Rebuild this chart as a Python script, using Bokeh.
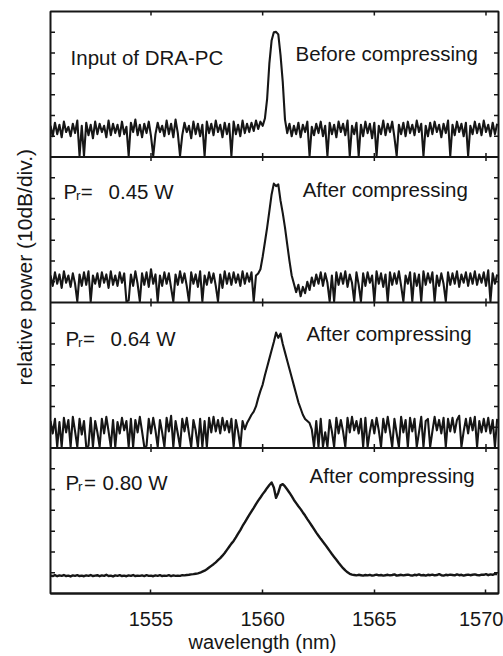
import numpy as np
from bokeh.plotting import figure
from bokeh.models import Range1d, FixedTicker, LinearAxis, Label, Span, Title
from bokeh.embed import file_html
from bokeh.resources import INLINE

# ---------------- data (1 division = 10 dB) ----------------
wavelength = np.round(1550.5 + 0.1 * np.arange(201), 2)   # nm sampling grid

power_input = [
    1.5, 1.0, 1.65, 1.1, 1.55, 0.95, 1.7, 1.2, 1.45, 1.0,
    1.6, 1.15, 1.75, 0.05, 1.5, 0.05, 1.65, 1.05, 1.55, 0.9,
    1.7, 1.1, 1.6, 1.2, 1.5, 0.95, 1.75, 1.05, 1.6, 1.15,
    1.55, 1.0, 1.7, 1.1, 1.45, 0.05, 1.65, 1.2, 1.8, 1.05,
    1.55, 0.95, 1.6, 1.15, 1.7, 1.0, 0.05, 1.1, 1.65, 1.2,
    1.5, 1.0, 1.75, 1.1, 1.6, 0.95, 1.8, 1.15, 0.05, 1.05,
    1.65, 1.2, 1.5, 0.9, 1.7, 1.1, 1.6, 1.0, 1.55, 0.05,
    1.7, 1.15, 1.6, 1.05, 1.75, 1.2, 1.55, 0.95, 1.65, 1.1,
    1.6, 0.05, 1.7, 1.1, 1.55, 1.0, 1.75, 1.15, 1.6, 1.2,
    1.65, 1.25, 1.75, 1.35, 1.7, 1.5, 1.85, 2.8, 4.5, 5.6,
    6.0, 6.02, 5.9, 4.9, 3.6, 1.8, 1.15, 1.6, 1.0, 1.5,
    1.1, 1.65, 0.95, 1.55, 1.2, 1.7, 0.05, 1.45, 1.05, 1.6,
    1.15, 1.7, 1.0, 1.5, 0.05, 1.65, 1.1, 1.55, 0.95, 1.7,
    1.2, 1.6, 1.05, 1.75, 0.05, 1.5, 1.1, 1.65, 0.05, 1.55,
    1.0, 1.7, 1.15, 1.6, 0.9, 1.65, 0.05, 1.5, 1.1, 1.75,
    1.05, 1.6, 1.2, 1.7, 0.95, 0.05, 1.55, 1.1, 1.65, 1.0,
    1.7, 1.15, 1.55, 1.05, 1.75, 1.2, 1.6, 0.05, 1.5, 1.0,
    1.65, 1.1, 1.7, 1.2, 1.55, 0.95, 1.6, 1.15, 1.75, 0.05,
    1.55, 1.05, 1.7, 1.2, 1.6, 1.0, 1.65, 0.05, 1.5, 1.1,
    1.7, 1.15, 1.6, 1.05, 1.75, 1.2, 1.55, 1.0, 1.65, 1.1,
    1.6,
]

power_045 = [
    1.3, 0.8, 1.45, 0.9, 1.35, 0.7, 1.5, 0.95, 1.3, 0.75,
    1.4, 0.9, 0.05, 1.35, 0.8, 1.45, 0.85, 1.5, 0.05, 1.3,
    0.9, 1.4, 0.75, 1.45, 0.95, 1.35, 0.7, 1.5, 0.85, 1.3,
    0.8, 1.45, 0.95, 1.4, 0.05, 0.1, 1.35, 0.8, 1.5, 0.9,
    0.05, 1.4, 0.85, 1.45, 0.75, 1.6, 0.9, 1.35, 0.05, 1.3,
    0.8, 1.45, 0.9, 1.4, 0.7, 0.05, 1.35, 0.85, 1.5, 0.95,
    1.4, 0.8, 0.05, 1.45, 0.9, 1.35, 0.75, 1.5, 0.05, 1.3,
    0.85, 1.45, 0.95, 1.4, 0.8, 0.05, 1.35, 0.7, 1.5, 0.9,
    1.4, 0.85, 1.45, 0.95, 1.35, 0.8, 1.5, 0.9, 1.4, 1.0,
    1.45, 0.05, 1.3, 1.4, 1.6, 2.2, 2.9, 3.6, 4.4, 5.2,
    5.72, 5.6, 5.68, 4.9, 4.3, 3.6, 2.8, 2.0, 1.3, 0.9,
    0.5, 0.85, 0.3, 0.75, 0.45, 1.0, 0.6, 1.2, 0.8, 1.35,
    0.9, 1.45, 0.8, 1.4, 0.95, 0.05, 1.3, 0.05, 1.45, 0.85,
    1.4, 0.9, 1.5, 0.75, 1.35, 0.95, 0.05, 1.45, 0.85, 0.05,
    1.4, 0.8, 1.45, 0.95, 1.3, 0.05, 1.5, 0.9, 1.4, 0.75,
    1.35, 0.05, 1.45, 0.85, 1.4, 0.9, 1.5, 0.8, 0.05, 1.3,
    0.9, 1.45, 0.05, 1.4, 0.8, 1.35, 0.05, 1.5, 0.85, 1.4,
    0.95, 1.45, 0.05, 1.3, 0.8, 1.4, 0.9, 0.05, 1.45, 0.85,
    1.4, 0.9, 1.5, 0.75, 1.35, 0.95, 1.45, 0.8, 1.4, 0.9,
    1.5, 0.85, 1.35, 0.95, 1.45, 0.8, 1.55, 0.05, 1.4, 0.9,
    1.35,
]

power_064 = [
    1.3, 0.7, 1.4, 0.05, 1.25, 0.05, 1.45, 0.75, 1.35, 0.05,
    1.5, 0.8, 0.05, 1.4, 0.65, 1.3, 0.05, 0.1, 1.45, 0.05,
    1.3, 0.75, 0.05, 1.4, 0.7, 1.5, 0.8, 0.05, 1.35, 0.05,
    1.25, 0.7, 1.45, 0.85, 1.3, 0.05, 1.4, 0.05, 1.35, 0.75,
    1.5, 0.8, 0.05, 0.1, 1.4, 0.7, 1.45, 0.85, 0.05, 1.35,
    0.75, 0.05, 1.45, 0.8, 1.55, 0.05, 1.3, 0.7, 0.05, 1.4,
    0.8, 1.45, 0.7, 0.05, 1.35, 0.85, 0.05, 1.4, 0.05, 1.3,
    0.05, 1.45, 0.75, 1.5, 0.8, 1.35, 0.7, 1.45, 0.85, 1.3,
    0.75, 1.4, 0.05, 1.35, 0.8, 0.05, 1.3, 0.9, 1.2, 1.4,
    1.6, 1.75, 2.0, 2.4, 2.75, 3.05, 3.5, 3.9, 4.3, 4.7,
    5.1, 5.55, 5.3, 5.5, 5.0, 4.6, 4.2, 3.8, 3.4, 3.0,
    2.6, 2.2, 1.9, 1.6, 1.4, 1.3, 1.2, 0.9, 0.05, 1.3,
    0.05, 1.4, 0.05, 0.75, 0.05, 1.35, 0.8, 0.05, 1.45, 0.7,
    1.35, 0.8, 0.05, 1.45, 0.75, 1.5, 0.85, 1.3, 0.7, 1.4,
    0.05, 1.45, 0.05, 0.8, 1.35, 0.7, 1.45, 0.85, 0.05, 1.4,
    0.75, 1.5, 0.8, 0.05, 1.4, 0.7, 0.05, 1.5, 0.75, 1.35,
    0.05, 1.45, 0.8, 1.4, 0.05, 0.75, 1.5, 0.05, 1.3, 1.4,
    0.05, 0.8, 1.5, 0.85, 1.35, 0.7, 1.45, 0.05, 1.4, 0.8,
    1.45, 0.75, 1.35, 1.55, 0.05, 0.8, 1.4, 0.7, 1.45, 0.85,
    1.5, 0.05, 1.3, 0.75, 1.4, 0.8, 1.45, 0.7, 1.35, 0.05,
    1.4,
]

power_080 = [
    0.86, 0.84, 0.88, 0.83, 0.87, 0.85, 0.89, 0.84, 0.86, 0.82,
    0.87, 0.85, 0.88, 0.84, 0.86, 0.83, 0.87, 0.85, 0.89, 0.84,
    0.86, 0.88, 0.83, 0.87, 0.85, 0.9, 0.84, 0.86, 0.82, 0.87,
    0.85, 0.88, 0.84, 0.86, 0.83, 0.87, 0.85, 0.89, 0.84, 0.86,
    0.85, 0.87, 0.84, 0.88, 0.85, 0.86, 0.83, 0.87, 0.85, 0.88,
    0.84, 0.86, 0.85, 0.88, 0.84, 0.87, 0.85, 0.86, 0.85, 0.88,
    0.87, 0.89, 0.9, 0.92, 0.93, 0.95, 0.97, 1.0, 1.05, 1.1,
    1.17, 1.25, 1.33, 1.41, 1.5, 1.6, 1.7, 1.82, 1.95, 2.1,
    2.25, 2.4, 2.53, 2.7, 2.88, 3.05, 3.25, 3.42, 3.6, 3.78,
    3.95, 4.12, 4.3, 4.47, 4.62, 4.78, 4.92, 5.08, 5.22, 5.34,
    5.1, 4.6, 4.85, 5.2, 5.26, 5.15, 5.0, 4.85, 4.68, 4.5,
    4.35, 4.2, 4.06, 3.9, 3.75, 3.58, 3.42, 3.26, 3.1, 2.93,
    2.78, 2.63, 2.49, 2.35, 2.2, 2.05, 1.9, 1.76, 1.62, 1.48,
    1.35, 1.22, 1.11, 1.02, 0.95, 0.91, 0.89, 0.87, 0.9, 0.88,
    0.86, 0.89, 0.87, 0.9, 0.86, 0.88, 0.91, 0.87, 0.89, 0.86,
    0.88, 0.9, 0.87, 0.89, 0.92, 0.86, 0.88, 0.9, 0.87, 0.89,
    0.91, 0.88, 0.86, 0.9, 0.88, 0.92, 0.87, 0.89, 0.86, 0.9,
    0.88, 0.91, 0.87, 0.89, 0.93, 0.88, 0.86, 0.9, 0.88, 0.91,
    0.89, 0.87, 0.92, 0.88, 0.9, 0.86, 0.89, 0.91, 0.88, 0.9,
    0.92, 0.89, 0.87, 0.91, 0.9, 0.93, 0.88, 0.92, 0.9, 0.94,
    0.93,
]

x_ticks = [1555, 1560, 1565, 1570]
divisions_per_panel = 7
panel_series = [power_input, power_045, power_064, power_080]   # top -> bottom
pump_powers = ["0.45 W", "0.64 W", "0.80 W"]

# ---------------- figure ----------------
FONT = "Liberation Sans"
INK = "#161616"
n_panels = len(panel_series)
total = n_panels * divisions_per_panel
x_lo, x_hi = 1550.5, 1570.56

p = figure(width=503, height=656, output_backend="svg", toolbar_location=None,
           x_range=Range1d(x_lo, x_hi), y_range=Range1d(0, total),
           x_axis_location=None, y_axis_location=None,
           min_border_left=50, min_border_right=5, min_border_top=11, min_border_bottom=63)
p.grid.grid_line_color = None
p.outline_line_color = INK
p.outline_line_width = 2
p.background_fill_color = "white"
p.border_fill_color = "white"

# per-panel y scales (each panel shows 0..7 divisions)
ranges = {}
for k in range(n_panels):
    off = (n_panels - 1 - k) * divisions_per_panel
    ranges[f"panel{k}"] = Range1d(-off, total - off)
p.extra_y_ranges = ranges

y_ticks = [k * divisions_per_panel + d for k in range(n_panels) for d in range(1, divisions_per_panel)]

# bottom axis with labels
bottom = LinearAxis(ticker=FixedTicker(ticks=x_ticks))
bottom.axis_line_color = INK
bottom.axis_line_width = 2
bottom.major_tick_line_color = INK
bottom.major_tick_line_width = 1.5
bottom.major_tick_in = 4
bottom.major_tick_out = 0
bottom.minor_tick_in = 0
bottom.minor_tick_out = 0
bottom.major_label_text_font = FONT
bottom.major_label_text_font_size = "20px"
bottom.major_label_text_color = INK
bottom.major_label_standoff = 18
p.add_layout(bottom, "below")
p.add_layout(Title(text="wavelength (nm)", text_font=FONT, text_font_size="20px",
                   text_font_style="normal", text_color=INK, align="left",
                   offset=138, standoff=0), "below")

# y title, pushed to the outer side of the left border
p.add_layout(Title(text="relative power (10dB/div.)", text_font=FONT, text_font_size="21px",
                   text_font_style="normal", text_color=INK, align="left",
                   vertical_align="top", offset=208, standoff=25), "left")

# panel separators
boundaries = [k * divisions_per_panel for k in range(1, n_panels)]
for b in boundaries:
    p.add_layout(Span(location=b, dimension="width", line_color=INK, line_width=2))

# inward tick marks on the frame edges and on the separators (clipped to the frame)
p.scatter(x=[t for b in boundaries + [total] for t in x_ticks],
          y=[b for b in boundaries + [total] for t in x_ticks],
          marker="dash", size=8, angle=np.pi / 2, line_color=INK, line_width=1.5)
p.scatter(x=[x_lo] * len(y_ticks) + [x_hi] * len(y_ticks), y=y_ticks + y_ticks,
          marker="dash", size=9, line_color=INK, line_width=1.5)

# spectra
for k, series in enumerate(panel_series):
    p.line(wavelength, series, y_range_name=f"panel{k}", line_color=INK,
           line_width=2.4 if k == n_panels - 1 else 2.1, line_join="round")


def txt(x, y, s, size="20.5px"):
    p.add_layout(Label(x=x, y=y, text=s, text_font=FONT, text_font_size=size,
                       text_color=INK, text_baseline="alphabetic"))


txt(1551.40, 25.79, "Input of DRA-PC")
txt(1561.47, 25.98, "Before compressing")

pr_pos = [  # P x, baseline y, '=' x, value x, baseline of "After compressing", its x
    (1551.08, 19.35, 1551.86, 1553.10, 19.44, 1561.79),
    (1551.17, 12.27, 1551.95, 1553.19, 12.51, 1561.96),
    (1551.17, 5.35, 1552.0, 1552.83, 5.68, 1562.10),
]
for (px, py, ex, vx, ay, ax_), val in zip(pr_pos, pump_powers):
    txt(px, py, "P")
    txt(px + 0.56, py - 0.2, "r", size="13.5px")
    txt(ex, py, "=")
    txt(vx, py, val)
    txt(ax_, ay, "After compressing")

open("out.html", "w").write(file_html(p, INLINE))
